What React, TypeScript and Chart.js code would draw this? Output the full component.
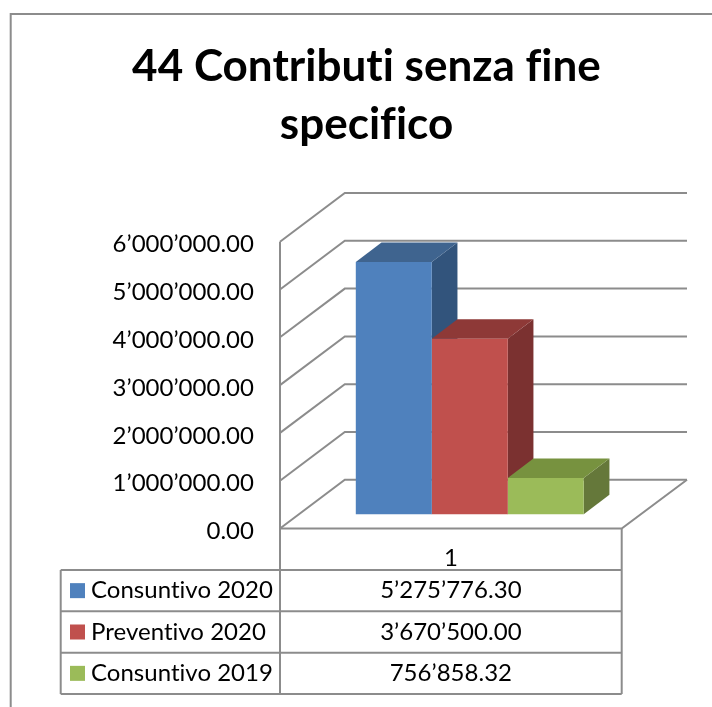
import React, { useEffect, useRef } from "react";
import { Chart, registerables } from "chart.js";

Chart.register(...registerables);

const categories = ["1"];
const seriesNames = ["Consuntivo 2020", "Preventivo 2020", "Consuntivo 2019"];
const seriesValues = [5275776.3, 3670500.0, 756858.32];
const frontColors = ["#4f81bd", "#c0504d", "#9bbb59"];
const topColors = ["#3f648f", "#8e3937", "#77923f"];
const sideColors = ["#32547c", "#7b3130", "#65783a"];
const titleLines = ["44 Contributi senza fine", "specifico"];

const FONT = "Lato";
const LINE = "#8c8c8c";
const LINE_W = 2;
const DROP = 3; // tick labels sit slightly below their gridline ends
const WALL_DX = 64.8;
const WALL_DY = -48.7;
const WALL_RIGHT = 687;
const BAR_SHIFT_X = 18.9;
const BAR_SHIFT_Y = -14.3 - DROP;
const BAR_DX = 25.7;
const BAR_DY = -19.5;
const TABLE_LEFT = 60.7;
const TABLE_ROWS = [570, 611.3, 652.7, 694];

const fmt = (v: number) => {
  const [a, b] = Number(v).toFixed(2).split(".");
  return a.replace(/\B(?=(\d{3})+(?!\d))/g, "\u2019") + "." + b;
};

const line = (ctx: CanvasRenderingContext2D, pts: number[][]) => {
  ctx.beginPath();
  pts.forEach(([x, y], i) => (i ? ctx.lineTo(x, y) : ctx.moveTo(x, y)));
  ctx.stroke();
};
const poly = (ctx: CanvasRenderingContext2D, pts: number[][], c: string) => {
  ctx.fillStyle = c;
  ctx.beginPath();
  pts.forEach(([x, y], i) => (i ? ctx.lineTo(x, y) : ctx.moveTo(x, y)));
  ctx.closePath();
  ctx.fill();
};

const frame3d = {
  id: "frame3d",
  beforeDraw(chart: any) {
    const { ctx, width, height } = chart;
    (ctx as any).letterSpacing = "0.02px"; // turns off Lato's ti/fi ligatures
    ctx.save();
    ctx.fillStyle = "#fff";
    ctx.fillRect(0, 0, width, height);
    ctx.strokeStyle = LINE;
    ctx.lineWidth = LINE_W;
    line(ctx, [[10.7, height], [10.7, 14], [width, 14]]);
    ctx.restore();
  },
  beforeDatasetsDraw(chart: any) {
    const { ctx, chartArea: a, scales } = chart;
    const y = scales.y;
    const top = a.top - DROP;
    const bottom = a.bottom - DROP;
    ctx.save();
    ctx.strokeStyle = LINE;
    ctx.lineWidth = LINE_W;
    y.ticks.forEach((t: any) => {
      const py = y.getPixelForValue(t.value) - DROP;
      line(ctx, [[a.left, py], [a.left + WALL_DX, py + WALL_DY], [WALL_RIGHT, py + WALL_DY]]);
    });
    line(ctx, [[a.left, top], [a.left, TABLE_ROWS[3]]]);
    line(ctx, [[a.left, bottom], [a.right, bottom], [WALL_RIGHT, bottom + WALL_DY]]);
    ctx.restore();

    ctx.save();
    ctx.translate(BAR_SHIFT_X, BAR_SHIFT_Y);
    seriesValues.forEach((_, i) => {
      const el = chart.getDatasetMeta(i).data[0];
      const { x, y: barTop, base, width: w } = el.getProps(["x", "y", "base", "width"], true);
      const l = x - w / 2;
      const r = x + w / 2;
      poly(ctx, [[r, barTop], [r + BAR_DX, barTop + BAR_DY], [r + BAR_DX, base + BAR_DY], [r, base]], sideColors[i]);
      poly(ctx, [[l, barTop], [r, barTop], [r + BAR_DX, barTop + BAR_DY], [l + BAR_DX, barTop + BAR_DY]], topColors[i]);
    });
  },
  afterDatasetsDraw(chart: any) {
    chart.ctx.restore();
  },
  afterDraw(chart: any) {
    const { ctx, chartArea: a } = chart;
    ctx.save();
    ctx.strokeStyle = LINE;
    ctx.lineWidth = LINE_W;
    TABLE_ROWS.forEach((ry) => line(ctx, [[TABLE_LEFT, ry], [a.right, ry]]));
    line(ctx, [[TABLE_LEFT, TABLE_ROWS[0]], [TABLE_LEFT, TABLE_ROWS[3]]]);
    line(ctx, [[a.right, a.bottom - DROP], [a.right, TABLE_ROWS[3]]]);
    ctx.font = `24px ${FONT}`;
    ctx.textBaseline = "middle";
    seriesNames.forEach((name, i) => {
      const cy = (TABLE_ROWS[i] + TABLE_ROWS[i + 1]) / 2;
      ctx.fillStyle = frontColors[i];
      ctx.fillRect(70, cy - 7.5, 15, 15);
      ctx.fillStyle = "#000";
      ctx.textAlign = "left";
      ctx.fillText(name, 91, cy);
      ctx.textAlign = "center";
      ctx.fillText(fmt(seriesValues[i]), (a.left + a.right) / 2, cy);
    });
    ctx.restore();
  },
};

export default function App() {
  const ref = useRef<HTMLCanvasElement>(null);
  useEffect(() => {
    const chart = new Chart(ref.current!, {
      type: "bar",
      data: {
        labels: categories,
        datasets: seriesNames.map((name, i) => ({
          label: name,
          data: [seriesValues[i]],
          backgroundColor: frontColors[i],
          borderWidth: 0,
          barPercentage: 1,
          categoryPercentage: 0.667,
          clip: false,
          yAxisID: "y",
        })),
      },
      options: {
        responsive: false,
        animation: false,
        layout: { padding: { left: 21, right: 0, top: 0, bottom: 0 }, autoPadding: false },
        plugins: {
          legend: { display: false },
          tooltip: { enabled: false },
          title: {
            display: true,
            text: titleLines,
            color: "#000",
            font: { family: FONT, size: 44, weight: "bold", lineHeight: 58 / 44 },
            padding: { top: 38, bottom: 90.7 },
          },
        },
        scales: {
          x: {
            grid: { display: false },
            border: { display: false },
            ticks: { color: "#000", font: { family: FONT, size: 24 }, padding: 4 },
            afterFit: (s: any) => { s.height = 175.5; },
          },
          y: {
            min: 0,
            max: 6000000,
            grid: { display: false, drawTicks: false },
            border: { display: false },
            ticks: {
              stepSize: 1000000,
              color: "#000",
              font: { family: FONT, size: 24 },
              padding: 26,
              callback: (v: any) => fmt(v),
            },
            afterFit: (s: any) => { s.width = 259; },
          },
          spacer: {
            position: "right",
            grid: { display: false },
            border: { display: false },
            ticks: { display: false },
            afterFit: (s: any) => { s.width = 90.3; },
          },
        },
      },
      plugins: [frame3d],
    } as any);
    return () => chart.destroy();
  }, []);
  return <canvas ref={ref} width={712} height={707} style={{ position: "absolute", left: 0, top: 0, display: "block" }} />;
}
